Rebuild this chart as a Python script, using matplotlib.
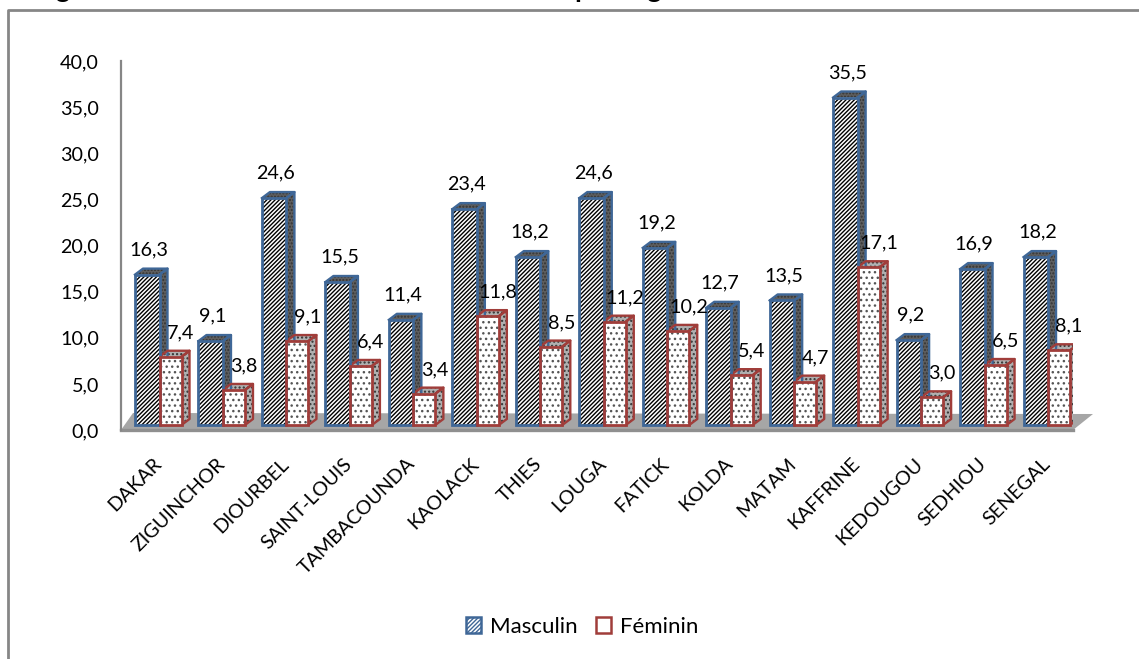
import matplotlib
matplotlib.use('Agg')
import matplotlib.pyplot as plt
from matplotlib.lines import Line2D
from matplotlib.patches import Patch
import numpy as np

regions = ['DAKAR', 'ZIGUINCHOR', 'DIOURBEL', 'SAINT-LOUIS', 'TAMBACOUNDA', 'KAOLACK', 'THIES', 'LOUGA',
           'FATICK', 'KOLDA', 'MATAM', 'KAFFRINE', 'KEDOUGOU', 'SEDHIOU', 'SENEGAL']
masculin = [16.3, 9.1, 24.6, 15.5, 11.4, 23.4, 18.2, 24.6, 19.2, 12.7, 13.5, 35.5, 9.2, 16.9, 18.2]
feminin = [7.4, 3.8, 9.1, 6.4, 3.4, 11.8, 8.5, 11.2, 10.2, 5.4, 4.7, 17.1, 3.0, 6.5, 8.1]
y_ticks = [0, 5, 10, 15, 20, 25, 30, 35, 40]

W, H = 1139, 659
plt.rcParams['font.family'] = ['Lato', 'DejaVu Sans']
plt.rcParams['hatch.linewidth'] = 1.0

BLUE = '#3f6797'
RED = '#a03d3a'
GREY = '#868686'
FS = 14.2

fig = plt.figure(figsize=(W / 100, H / 100), dpi=100)
ax = fig.add_axes([121 / W, 1 - 430 / H, (1073 - 121) / W, (430 - 61) / H])
ax.set_xlim(0, len(regions))
ax.set_ylim(0, 40)

# pixel sizes turned into data units
px_x = len(regions) / (1073 - 121)
px_y = 40 / (430 - 61)
dx, dy = 8 * px_x, 6 * px_y
lift = 5 * px_y
masc_w = 24.5 * px_x
fem_w = 22 * px_x
x = np.arange(len(regions))


def bars_3d(xpos, values, bar_w, edge, front_hatch, hatch_col, side_col, side_hatch):
    for xp, v in zip(xpos, values):
        top = v + lift
        # side face
        ax.fill([xp + bar_w, xp + bar_w + dx, xp + bar_w + dx, xp + bar_w],
                [lift, lift + dy, top + dy, top], facecolor=side_col, edgecolor='#333333',
                hatch=side_hatch, lw=0, zorder=3)
        ax.plot([xp + bar_w, xp + bar_w + dx, xp + bar_w + dx, xp + bar_w],
                [lift, lift + dy, top + dy, top], color=edge, lw=1.7, zorder=3.1)
        # top face
        ax.fill([xp, xp + dx, xp + bar_w + dx, xp + bar_w], [top, top + dy, top + dy, top],
                facecolor=side_col, edgecolor='#333333', hatch=side_hatch, lw=0, zorder=3)
        ax.plot([xp, xp + dx, xp + bar_w + dx, xp + bar_w], [top, top + dy, top + dy, top],
                color=edge, lw=1.7, zorder=3.1)
    # front face, hatch first and then the coloured outline
    ax.bar(xpos, values, bar_w, bottom=lift, align='edge', facecolor='white', edgecolor=hatch_col,
           hatch=front_hatch, lw=0, zorder=3.2)
    ax.bar(xpos, values, bar_w, bottom=lift, align='edge', facecolor='none', edgecolor=edge,
           lw=2.0, zorder=3.3)


# floor
ax.fill([0, 12 * px_x, (1093 - 121) * px_x, (1073 - 121) * px_x], [0, 17 * px_y, 16 * px_y, 0],
        facecolor='#a6a6a6', edgecolor='none', clip_on=False, zorder=1)
ax.plot([0, (1073 - 121) * px_x], [0, 0], color='#8f8f8f', lw=2.4, clip_on=False, zorder=2)

bars_3d(x + 14 * px_x, masculin, masc_w, BLUE, '////////', 'black', '#5e5e5e', '.....')
bars_3d(x + 14 * px_x + masc_w, feminin, fem_w, RED, '...', '#555555', '#b0b0b0', '....')

for i in range(len(regions)):
    ax.annotate(f'{masculin[i]:.1f}'.replace('.', ','), (x[i] + 14 * px_x, masculin[i] + lift),
                xytext=(14, 25), textcoords='offset pixels', ha='center', va='center', fontsize=FS,
                zorder=5, annotation_clip=False)
    ax.annotate(f'{feminin[i]:.1f}'.replace('.', ','), (x[i] + 14 * px_x + masc_w, feminin[i] + lift),
                xytext=(21, 24), textcoords='offset pixels', ha='center', va='center', fontsize=FS,
                zorder=5, annotation_clip=False)

ax.set_yticks(y_ticks)
ax.set_yticklabels([f'{t:.1f}'.replace('.', ',') for t in y_ticks], fontsize=FS)
ax.set_xticks(x + 0.5)
ax.set_xticklabels(regions, rotation=45, ha='right', va='top', rotation_mode='anchor', fontsize=FS)
ax.tick_params(axis='y', length=0, pad=16)
ax.tick_params(axis='x', length=0, pad=18)
for s in ['top', 'right', 'bottom']:
    ax.spines[s].set_visible(False)
ax.spines['left'].set_color(GREY)
ax.spines['left'].set_linewidth(1.6)
ax.patch.set_alpha(0)

# chart frame, cut off on the right and at the bottom of the picture
fig.add_artist(Line2D([8 / W, 8 / W, 1], [0, 1 - 10 / H, 1 - 10 / H], color=GREY, lw=2.0))

# heading above the frame, only its descenders are left in the picture
fig.text(34 / W, 1 + 3 / H, 'Figure', fontsize=20, fontweight='bold', va='baseline')
fig.text(575 / W, 1 + 3 / H, 'par région', fontsize=20, fontweight='bold', va='baseline')

handles = [Patch(facecolor='white', edgecolor=BLUE, hatch='////////', lw=1.8, label='Masculin'),
           Patch(facecolor='white', edgecolor=RED, lw=1.8, label='Féminin')]
fig.legend(handles=handles, loc='center', bbox_to_anchor=(582 / W, 1 - 627 / H), ncol=2, frameon=False,
           fontsize=16, handlelength=0.7, handleheight=0.7, handletextpad=0.4, columnspacing=0.8)

fig.savefig('out.png', dpi=100, facecolor='white')
